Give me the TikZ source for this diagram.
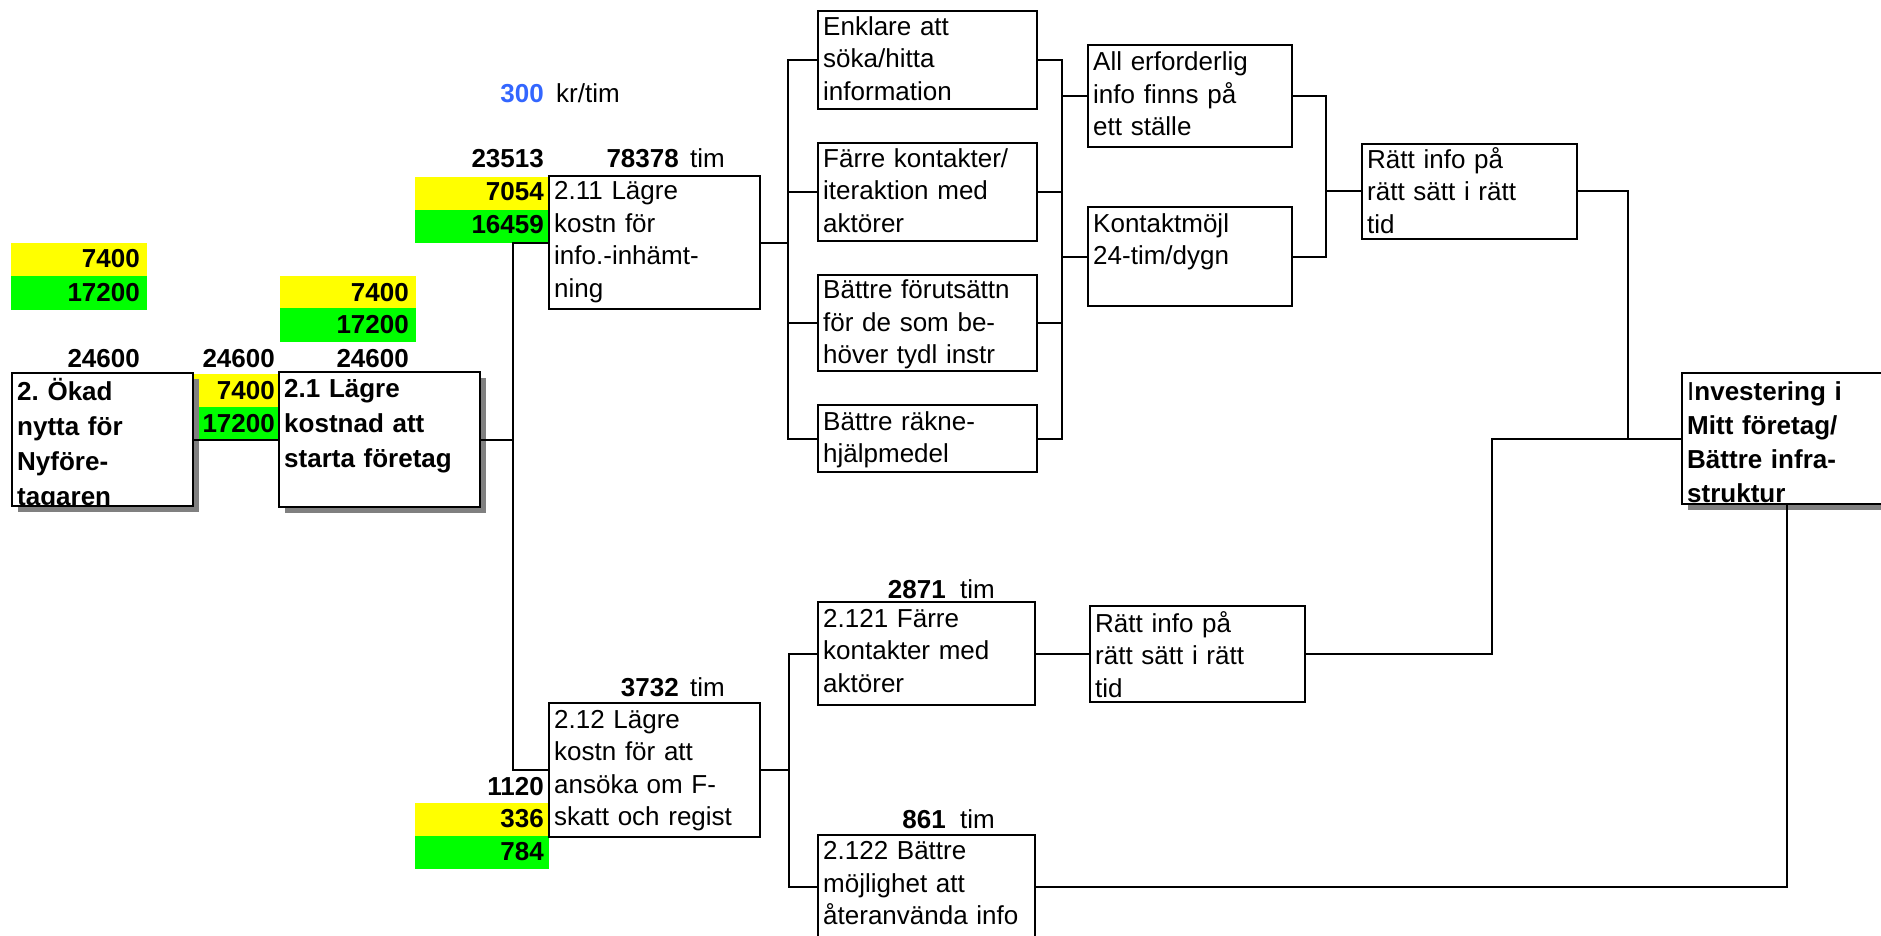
\documentclass[tikz,border=0pt]{standalone}
\usepackage{fontspec}
\setmainfont{Liberation Sans}
\usetikzlibrary{calc}
\definecolor{cellyellow}{RGB}{255,255,0}
\definecolor{cellgreen}{RGB}{0,255,0}
\definecolor{shadowgray}{RGB}{128,128,128}
\definecolor{rateblue}{RGB}{51,102,255}
\frenchspacing
\begin{document}
\begin{tikzpicture}[x=1pt,y=-1pt,
  box/.style={draw=black, line width=2pt, fill=white, anchor=north west,
    inner sep=0pt, outer sep=0pt},
  shadowed/.style={preaction={fill=shadowgray, draw=none,
    transform canvas={shift={(6pt,-6pt)}}}},
  txt/.style={anchor=north west, inner sep=0pt, text height=0pt,
    text width=260pt, align=left, font=\fontsize{26}{32.5}\selectfont},
  btxt/.style={txt, font=\fontsize{26}{35}\selectfont\bfseries},
  num/.style={anchor=base east, inner sep=0pt, font=\fontsize{26}{32}\selectfont\bfseries},
  unitlbl/.style={anchor=base west, inner sep=0pt, font=\fontsize{26}{32}\selectfont},
  cell/.style={anchor=north west, inner sep=0pt, outer sep=0pt, draw=none},
  conn/.style={line width=2pt},
]
\useasboundingbox (0,0) rectangle (1881,936);
\clip (0,0) rectangle (1881,936);

% ---- coloured value cells (yellow / green) ----
\node[cell, fill=cellyellow, minimum width=136pt, minimum height=33pt] (c0y) at (11,243) {};
\node[cell, fill=cellgreen,  minimum width=136pt, minimum height=34pt] (c0g) at (11,276) {};
\node[cell, fill=cellyellow, minimum width=136pt, minimum height=32pt] (c21y) at (280,276) {};
\node[cell, fill=cellgreen,  minimum width=136pt, minimum height=34pt] (c21g) at (280,308) {};
\node[cell, fill=cellyellow, minimum width=87pt,  minimum height=33pt] (c2y) at (193,374) {};
\node[cell, fill=cellgreen,  minimum width=87pt,  minimum height=33pt] (c2g) at (193,407) {};
\node[cell, fill=cellyellow, minimum width=134pt, minimum height=33pt] (c211y) at (415,177) {};
\node[cell, fill=cellgreen,  minimum width=134pt, minimum height=33pt] (c211g) at (415,210) {};
\node[cell, fill=cellyellow, minimum width=134pt, minimum height=33pt] (c212y) at (415,803) {};
\node[cell, fill=cellgreen,  minimum width=134pt, minimum height=33pt] (c212g) at (415,836) {};

\node[num] (n0y) at ($(c0y.north east)+(-7,24)$) {7400};
\node[num] (n0g) at ($(c0g.north east)+(-7,25)$) {17200};
\node[num] (n21y) at ($(c21y.north east)+(-7,25)$) {7400};
\node[num] (n21g) at ($(c21g.north east)+(-7,25)$) {17200};
\node[num] (n2y) at ($(c2y.north east)+(-5,25)$) {7400};
\node[num] (n2g) at ($(c2g.north east)+(-5,25)$) {17200};
\node[num] (n211y) at ($(c211y.north east)+(-5,23.5)$) {7054};
\node[num] (n211g) at ($(c211g.north east)+(-5,23.5)$) {16459};
\node[num] (n212y) at ($(c212y.north east)+(-5,24)$) {336};
\node[num] (n212g) at ($(c212g.north east)+(-5,24)$) {784};

% ---- free standing figures ----
\node[num] (t2) at (140,367) {24600};
\node[num] (t2m) at (275,367) {24600};
\node[num] (t21) at (409,367) {24600};
\node[num, text=rateblue] (rate) at (544,103) {300};
\node[unitlbl] (rateu) at (556,103) {kr/tim};
\node[num] (t211k) at (544,168) {23513};
\node[num] (t211h) at (679,168) {78378};
\node[unitlbl] (t211u) at (690,168) {tim};
\node[num] (t212h) at (679,696) {3732};
\node[unitlbl] (t212u) at (690,696) {tim};
\node[num] (t212k) at (544,795) {1120};
\node[num] (t2121h) at (946,598) {2871};
\node[unitlbl] (t2121u) at (960,598) {tim};
\node[num] (t2122h) at (946,828) {861};
\node[unitlbl] (t2122u) at (960,828) {tim};

% ---- boxes ----
\node[box, shadowed, minimum width=181pt, minimum height=133pt] (b2) at (12,373) {};
\node[box, shadowed, minimum width=201pt, minimum height=135pt] (b21) at (279,372) {};
\node[box, minimum width=211pt, minimum height=133pt] (b211) at (549,176) {};
\node[box, minimum width=211pt, minimum height=134pt] (b212) at (549,703) {};
\node[box, minimum width=219pt, minimum height=98pt] (bA) at (818,11) {};
\node[box, minimum width=219pt, minimum height=98pt] (bB) at (818,143) {};
\node[box, minimum width=219pt, minimum height=96pt] (bC) at (818,275) {};
\node[box, minimum width=219pt, minimum height=67pt] (bD) at (818,405) {};
\node[box, minimum width=204pt, minimum height=102pt] (bAE) at (1088,45) {};
\node[box, minimum width=204pt, minimum height=99pt] (bK) at (1088,207) {};
\node[box, minimum width=215pt, minimum height=95pt] (bR1) at (1362,144) {};
\node[box, shadowed, minimum width=210pt, minimum height=131pt] (bInv) at (1682,373) {};
\node[box, minimum width=217pt, minimum height=103pt] (b2121) at (818,602) {};
\node[box, minimum width=215pt, minimum height=96pt] (bR2) at (1090,606) {};
\node[box, minimum width=217pt, minimum height=103pt] (b2122) at (818,835) {};

% ---- junction columns ----
\coordinate (v1) at (513,0);
\coordinate (v2) at (788,0);
\coordinate (v3) at (1062,0);
\coordinate (v4) at (1326,0);
\coordinate (v5) at (1628,0);
\coordinate (v6) at (1492,0);
\coordinate (v7) at (789,0);
\coordinate (v8) at (1787,0);

% ---- connectors ----
\draw[conn] (b2.east) -- (b21.west);
\draw[conn] (b21.east) -- (v1 |- b21.east);
\draw[conn] (b211.west) -| (v1 |- b212.west) -- (b212.west);
\draw[conn] (b211.east) -- (v2 |- b211.east);
\draw[conn] (bA.west) -| (v2 |- bD.west) -- (bD.west);
\draw[conn] (v2 |- bB.west) -- (bB.west);
\draw[conn] (v2 |- bC.west) -- (bC.west);
\draw[conn] (bA.east) -| (v3 |- bD.east) -- (bD.east);
\draw[conn] (bB.east) -- (v3 |- bB.east);
\draw[conn] (bC.east) -- (v3 |- bC.east);
\draw[conn] (v3 |- bAE.west) -- (bAE.west);
\draw[conn] (v3 |- bK.west) -- (bK.west);
\draw[conn] (bAE.east) -| (v4 |- bK.east) -- (bK.east);
\draw[conn] (v4 |- bR1.west) -- (bR1.west);
\draw[conn] (bR1.east) -| (v5 |- bInv.west);
\draw[conn] (bInv.west) -- (v6 |- bInv.west) |- (bR2.east);
\draw[conn] (b212.east) -- (v7 |- b212.east);
\draw[conn] (b2121.west) -| (v7 |- b2122.west) -- (b2122.west);
\draw[conn] (bR2.west) -- (bR2.west -| b2121.east);
\draw[conn] (b2122.east) -| (v8 |- bInv.south);

% ---- box texts ----
\begin{scope}
  \clip (b2.north west) rectangle (b2.south east);
  \node[btxt] (b2t) at ($(b2.north west)+(5,27)$) {2. Ökad\\nytta för\\Nyföre-\\tagaren};
\end{scope}
\node[btxt] (b21t) at ($(b21.north west)+(5,25.5)$) {2.1 Lägre\\kostnad att\\starta företag};
\node[btxt, font=\fontsize{26}{34}\selectfont\bfseries] (bInvt) at ($(bInv.north west)+(5,27)$)
  {{\mdseries I}nvestering i\\Mitt företag/\\Bättre infra-\\struktur};
\node[txt] (b211t) at ($(b211.north west)+(5,23.5)$) {2.11 Lägre\\kostn för\\info.-inhämt-\\ning};
\node[txt] (b212t) at ($(b212.north west)+(5,25)$) {2.12 Lägre\\kostn för att\\ansöka om F-\\skatt och regist};
\node[txt] (bAt) at ($(bA.north west)+(5,24)$) {Enklare att\\söka/hitta\\information};
\node[txt] (bBt) at ($(bB.north west)+(5,24)$) {Färre kontakter/\\iteraktion med\\aktörer};
\node[txt] (bCt) at ($(bC.north west)+(5,23.5)$) {Bättre förutsättn\\för de som be-\\höver tydl instr};
\node[txt] (bDt) at ($(bD.north west)+(5,25)$) {Bättre räkne-\\hjälpmedel};
\node[txt] (bAEt) at ($(bAE.north west)+(5,25.5)$) {All erforderlig\\info finns på\\ett ställe};
\node[txt] (bKt) at ($(bK.north west)+(5,25)$) {Kontaktmöjl\\24-tim/dygn};
\node[txt] (bR1t) at ($(bR1.north west)+(5,24)$) {Rätt info på\\rätt sätt i rätt\\tid};
\node[txt] (b2121t) at ($(b2121.north west)+(5,25)$) {2.121 Färre\\kontakter med\\aktörer};
\node[txt] (bR2t) at ($(bR2.north west)+(5,26)$) {Rätt info på\\rätt sätt i rätt\\tid};
\node[txt] (b2122t) at ($(b2122.north west)+(5,24.5)$) {2.122 Bättre\\möjlighet att\\återanvända info};
\end{tikzpicture}
\end{document}
